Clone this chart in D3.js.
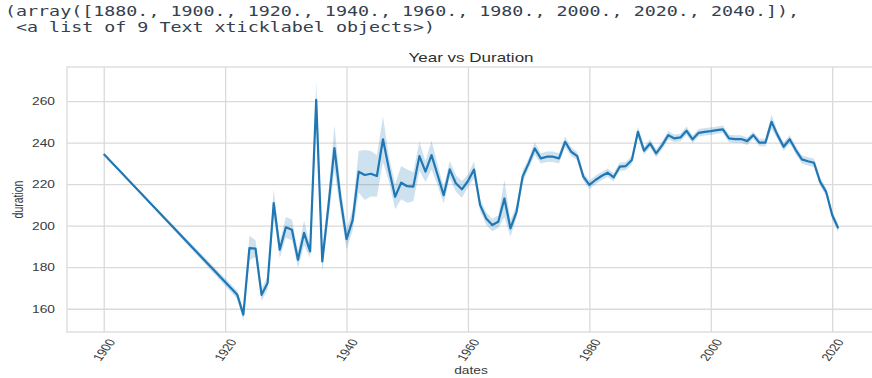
<!DOCTYPE html>
<html>
<head>
<meta charset="utf-8">
<script src="https://cdn.jsdelivr.net/npm/d3@7"></script>
<style>
  html, body { margin: 0; padding: 0; background: #fff; }
  svg { display: block; }
</style>
</head>
<body>
<svg id="chart" width="872" height="378"></svg>
<script>
// Mean song duration per release year, with the bootstrap confidence band
const years = [1900,
  1922, 1923, 1924, 1925, 1926, 1927, 1928, 1929, 1930, 1931,
  1932, 1933, 1934, 1935, 1936, 1937, 1938, 1939, 1940, 1941,
  1942, 1943, 1944, 1945, 1946, 1947, 1948, 1949, 1950, 1951,
  1952, 1953, 1954, 1955, 1956, 1957, 1958, 1959, 1960, 1961,
  1962, 1963, 1964, 1965, 1966, 1967, 1968, 1969, 1970, 1971,
  1972, 1973, 1974, 1975, 1976, 1977, 1978, 1979, 1980, 1981,
  1982, 1983, 1984, 1985, 1986, 1987, 1988, 1989, 1990, 1991,
  1992, 1993, 1994, 1995, 1996, 1997, 1998, 1999, 2000, 2001,
  2002, 2003, 2004, 2005, 2006, 2007, 2008, 2009, 2010, 2011,
  2012, 2013, 2014, 2015, 2016, 2017, 2018, 2019, 2020, 2021];

const duration = [234.5,
  166.7, 157.1, 189.2, 189.0, 166.7, 172.4, 210.9, 188.4, 199.2, 198.0,
  183.6, 196.5, 187.6, 260.6, 182.8, 209.0, 237.4, 213.0, 193.5, 202.7,
  226.0, 224.4, 225.0, 223.9, 241.6, 227.0, 213.9, 220.7, 219.0, 218.8,
  233.5, 226.0, 234.0, 224.4, 214.7, 227.1, 220.4, 217.5, 221.5, 227.0,
  209.9, 203.5, 200.3, 201.9, 213.1, 198.7, 206.7, 223.6, 230.0, 237.2,
  232.4, 233.2, 233.2, 232.4, 240.4, 235.6, 233.5, 223.6, 219.6, 222.0,
  223.9, 225.5, 223.3, 228.4, 228.7, 231.6, 245.2, 236.1, 239.6, 234.8,
  238.8, 243.6, 242.0, 242.5, 245.7, 241.6, 244.7, 245.2, 245.5, 246.0,
  246.4, 242.0, 241.7, 241.7, 240.7, 243.6, 240.0, 240.0, 250.0, 243.6,
  238.0, 241.6, 236.4, 231.9, 231.0, 230.3, 221.2, 216.3, 205.1, 198.7];

// half-width of the 95% confidence band around each mean
const ciHalf = [0,
  2.0, 3.0, 6.0, 4.0, 3.0, 3.0, 6.5, 4.0, 5.0, 5.0,
  4.0, 6.0, 3.0, 9.0, 5.0, 6.0, 11.0, 6.0, 5.0, 5.0,
  10.0, 12.0, 11.0, 10.0, 11.0, 6.0, 6.0, 8.0, 8.0, 7.0,
  7.0, 5.0, 7.0, 5.0, 4.0, 4.0, 4.0, 4.0, 3.0, 4.0,
  3.0, 3.0, 3.0, 3.0, 9.0, 4.0, 3.0, 3.0, 2.5, 3.0,
  2.5, 2.5, 2.5, 2.5, 2.5, 2.0, 2.0, 2.0, 2.0, 2.0,
  2.0, 2.0, 2.0, 2.0, 2.0, 2.0, 2.5, 2.0, 2.0, 2.0,
  2.0, 2.0, 1.8, 1.8, 2.0, 1.8, 1.8, 1.8, 1.8, 1.8,
  1.8, 1.8, 1.8, 1.8, 1.8, 1.8, 1.8, 1.8, 3.5, 2.0,
  2.0, 2.0, 2.0, 2.0, 2.0, 2.0, 2.0, 2.0, 2.0, 2.0];

const xTicks = [1900, 1920, 1940, 1960, 1980, 2000, 2020];
const yTicks = [160, 180, 200, 220, 240, 260];

const outputLines = [
  "(array([1880., 1900., 1920., 1940., 1960., 1980., 2000., 2020., 2040.]),",
  " <a list of 9 Text xticklabel objects>)"
];

const titleText = "Year vs Duration";
const xLabel = "dates";
const yLabel = "duration";

// ---------------------------------------------------------------------------
const SX = 1.31;               // horizontal glyph stretch used for every label
const svg = d3.select("#chart");
const plot = { left: 67, right: 875, top: 67, bottom: 332 };

const x = d3.scaleLinear().domain([1893.95, 2027.05]).range([plot.left, plot.right]);
const y = d3.scaleLinear().domain([148.8, 276.4]).range([plot.bottom, plot.top]);

const gridColor = "#dadada";
const textColor = "#3a3a3a";
const lineColor = "#1f77b4";
const sansFont = "'Liberation Sans', Arial, sans-serif";

function stretched(sel, tx, ty, rot) {
  return sel.attr("transform", `translate(${tx},${ty}) scale(${SX},1) rotate(${rot || 0})`);
}

// notebook output text above the figure
const out = svg.append("g");
outputLines.forEach((line, i) => {
  stretched(out.append("text"), 5, 16 + i * 16)
    .attr("font-family", "'DejaVu Sans Mono', monospace")
    .attr("font-size", 14)
    .attr("fill", "#34404e")
    .attr("xml:space", "preserve")
    .style("white-space", "pre")
    .text(line);
});

// plotting area, clipped like the axes
svg.append("clipPath").attr("id", "plotClip")
  .append("rect")
  .attr("x", plot.left).attr("y", plot.top)
  .attr("width", plot.right - plot.left).attr("height", plot.bottom - plot.top);

const grid = svg.append("g").attr("clip-path", "url(#plotClip)");

// grid lines drawn through d3 axes
grid.append("g")
  .attr("transform", `translate(0,${plot.top})`)
  .call(d3.axisBottom(x).tickValues(xTicks).tickSize(plot.bottom - plot.top).tickFormat(""))
  .call(g => g.select(".domain").remove())
  .call(g => g.selectAll("line").attr("stroke", gridColor).attr("stroke-width", 1.3));

grid.append("g")
  .attr("transform", `translate(${plot.left},0)`)
  .call(d3.axisRight(y).tickValues(yTicks).tickSize(plot.right - plot.left).tickFormat(""))
  .call(g => g.select(".domain").remove())
  .call(g => g.selectAll("line").attr("stroke", gridColor).attr("stroke-width", 1.3));

// frame
svg.append("rect")
  .attr("x", plot.left).attr("y", plot.top)
  .attr("width", plot.right - plot.left).attr("height", plot.bottom - plot.top)
  .attr("fill", "none").attr("stroke", gridColor).attr("stroke-width", 1.3);

const rows = years.map((yr, i) => ({ year: yr, mean: duration[i], half: ciHalf[i] }));

const marks = svg.append("g").attr("clip-path", "url(#plotClip)");

// confidence band
marks.append("path")
  .datum(rows)
  .attr("fill", lineColor)
  .attr("fill-opacity", 0.22)
  .attr("stroke", "none")
  .attr("d", d3.area()
    .x(d => x(d.year))
    .y0(d => y(d.mean - d.half))
    .y1(d => y(d.mean + d.half)));

// mean line
marks.append("path")
  .datum(rows)
  .attr("fill", "none")
  .attr("stroke", lineColor)
  .attr("stroke-width", 2.2)
  .attr("stroke-linejoin", "round")
  .attr("d", d3.line().x(d => x(d.year)).y(d => y(d.mean)));

// y tick labels
const yAxis = svg.append("g")
  .attr("transform", `translate(${plot.left},0)`)
  .call(d3.axisLeft(y).tickValues(yTicks).tickSize(0).tickFormat(d3.format("d")));
yAxis.select(".domain").remove();
yAxis.selectAll(".tick text").each(function (d) {
  d3.select(this)
    .attr("x", null).attr("dy", null)
    .attr("text-anchor", "end")
    .attr("dominant-baseline", "central")
    .attr("font-family", sansFont)
    .attr("font-size", 10.5)
    .attr("fill", textColor)
    .attr("transform", `translate(-12,0) scale(${SX},1)`);
});

// x tick labels, rotated
const xAxis = svg.append("g")
  .attr("transform", `translate(0,${plot.bottom})`)
  .call(d3.axisBottom(x).tickValues(xTicks).tickSize(0).tickFormat(d3.format("d")));
xAxis.select(".domain").remove();
xAxis.selectAll(".tick text").each(function () {
  d3.select(this)
    .attr("y", null).attr("dy", null)
    .attr("text-anchor", "middle")
    .attr("dominant-baseline", "central")
    .attr("font-family", sansFont)
    .attr("font-size", 10.5)
    .attr("fill", textColor)
    .attr("transform", `translate(0,18) scale(${SX},1) rotate(-60)`);
});

// axis titles
stretched(svg.append("text"), (plot.left + plot.right) / 2, 374)
  .attr("text-anchor", "middle")
  .attr("font-family", sansFont).attr("font-size", 10.5)
  .attr("fill", textColor)
  .text(xLabel);

stretched(svg.append("text"), 23, (plot.top + plot.bottom) / 2, -90)
  .attr("text-anchor", "middle")
  .attr("font-family", sansFont).attr("font-size", 10.5)
  .attr("fill", textColor)
  .text(yLabel);

stretched(svg.append("text"), (plot.left + plot.right) / 2, 62)
  .attr("text-anchor", "middle")
  .attr("font-family", sansFont).attr("font-size", 13)
  .attr("fill", "#2e2e2e")
  .text(titleText);
</script>
</body>
</html>
